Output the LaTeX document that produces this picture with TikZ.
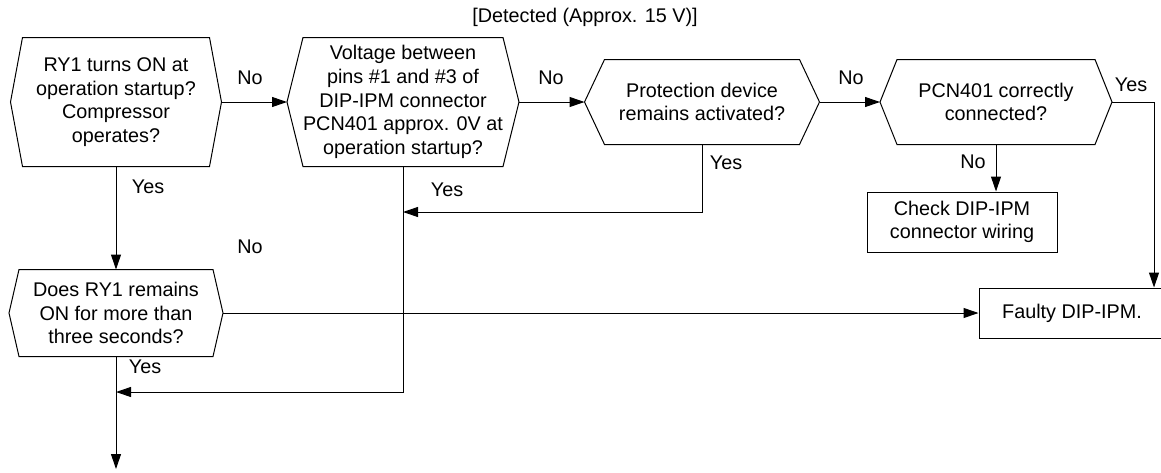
\documentclass[tikz,border=0pt]{standalone}
\usepackage{fontspec}
\setmainfont{Liberation Sans}
\usetikzlibrary{arrows.meta}

\begin{document}
\begin{tikzpicture}[x=1pt, y=-1pt, line width=1pt, line join=miter,
  txt/.style={font=\fontsize{19.8}{23.6}\selectfont, align=center, inner sep=0pt},
  hexnode/.style={txt, minimum width=#1},
  boxnode/.style={txt, draw, minimum width=#1},
  flow/.style={-{Triangle[length=15pt,width=10pt]}}]

  %% ==== title ====
  \node[txt] (title) at (585,17) {[Detected (Approx. 15 V)]};

  %% ==== decisions (hexagons drawn below) ====
  \node[hexnode=210, minimum height=128] (ry) at (116,102)
    {RY1 turns ON at\\operation startup?\\Compressor\\operates?};
  \node[hexnode=231, minimum height=128] (volt) at (403,102)
    {Voltage between\\pins \#1 and \#3 of\\DIP-IPM connector\\PCN401 approx. 0V at\\operation startup?};
  \node[hexnode=234, minimum height=84] (prot) at (702,102)
    {Protection device\\remains activated?};
  \node[hexnode=231, minimum height=84] (pcn) at (996,102)
    {PCN401 correctly\\connected?};
  \node[hexnode=213, minimum height=86] (remain) at (116,313)
    {Does RY1 remains\\ON for more than\\three seconds?};

  \foreach \n/\d in {ry/12, volt/16, prot/20, pcn/17, remain/10}
    \draw (\n.west) -- ([xshift=\d pt]\n.north west) -- ([xshift=-\d pt]\n.north east)
      -- (\n.east) -- ([xshift=-\d pt]\n.south east) -- ([xshift=\d pt]\n.south west) -- cycle;

  %% ==== boxes ====
  \node[boxnode=190, minimum height=60] (check) at (962,222) {Check DIP-IPM\\connector wiring};
  \node[boxnode=186, minimum height=50] (faulty) at (1072,313) {Faulty DIP-IPM.};

  %% ==== connectors ====
  \coordinate (yesbend) at (1154,102);
  \coordinate (exit) at (116,469);
  \draw[flow] (ry.east) -- (volt.west);
  \draw[flow] (volt.east) -- (prot.west);
  \draw[flow] (prot.east) -- (pcn.west);
  \draw[flow] (pcn.east) -- (yesbend) -- (yesbend |- faulty.north);
  \draw[flow] (pcn.south) -- (pcn.south |- check.north);
  \draw[flow] (prot.south) |- (volt.south |- 0,212);
  \draw[flow] (volt.south) |- (remain.south |- 0,392);
  \draw[flow] (ry.south) -- (remain.north);
  \draw[flow] (remain.east) -- (faulty.west);
  \draw[flow] (remain.south) -- (exit);

  %% ==== branch labels ====
  \node[txt] (no1) at (250,78) {No};
  \node[txt] (no2) at (551,78) {No};
  \node[txt] (no3) at (851,78) {No};
  \node[txt] (yes4) at (1131,85) {Yes};
  \node[txt] (no4) at (973,162) {No};
  \node[txt] (yes3) at (726,163) {Yes};
  \node[txt] (yes2) at (447,190) {Yes};
  \node[txt] (yes1) at (148,187) {Yes};
  \node[txt] (no5) at (250,247) {No};
  \node[txt] (yes5) at (145,367) {Yes};

  % fix the canvas
  \pgfresetboundingbox
  \path[use as bounding box] (0,0) rectangle (1161,472);
\end{tikzpicture}
\end{document}
